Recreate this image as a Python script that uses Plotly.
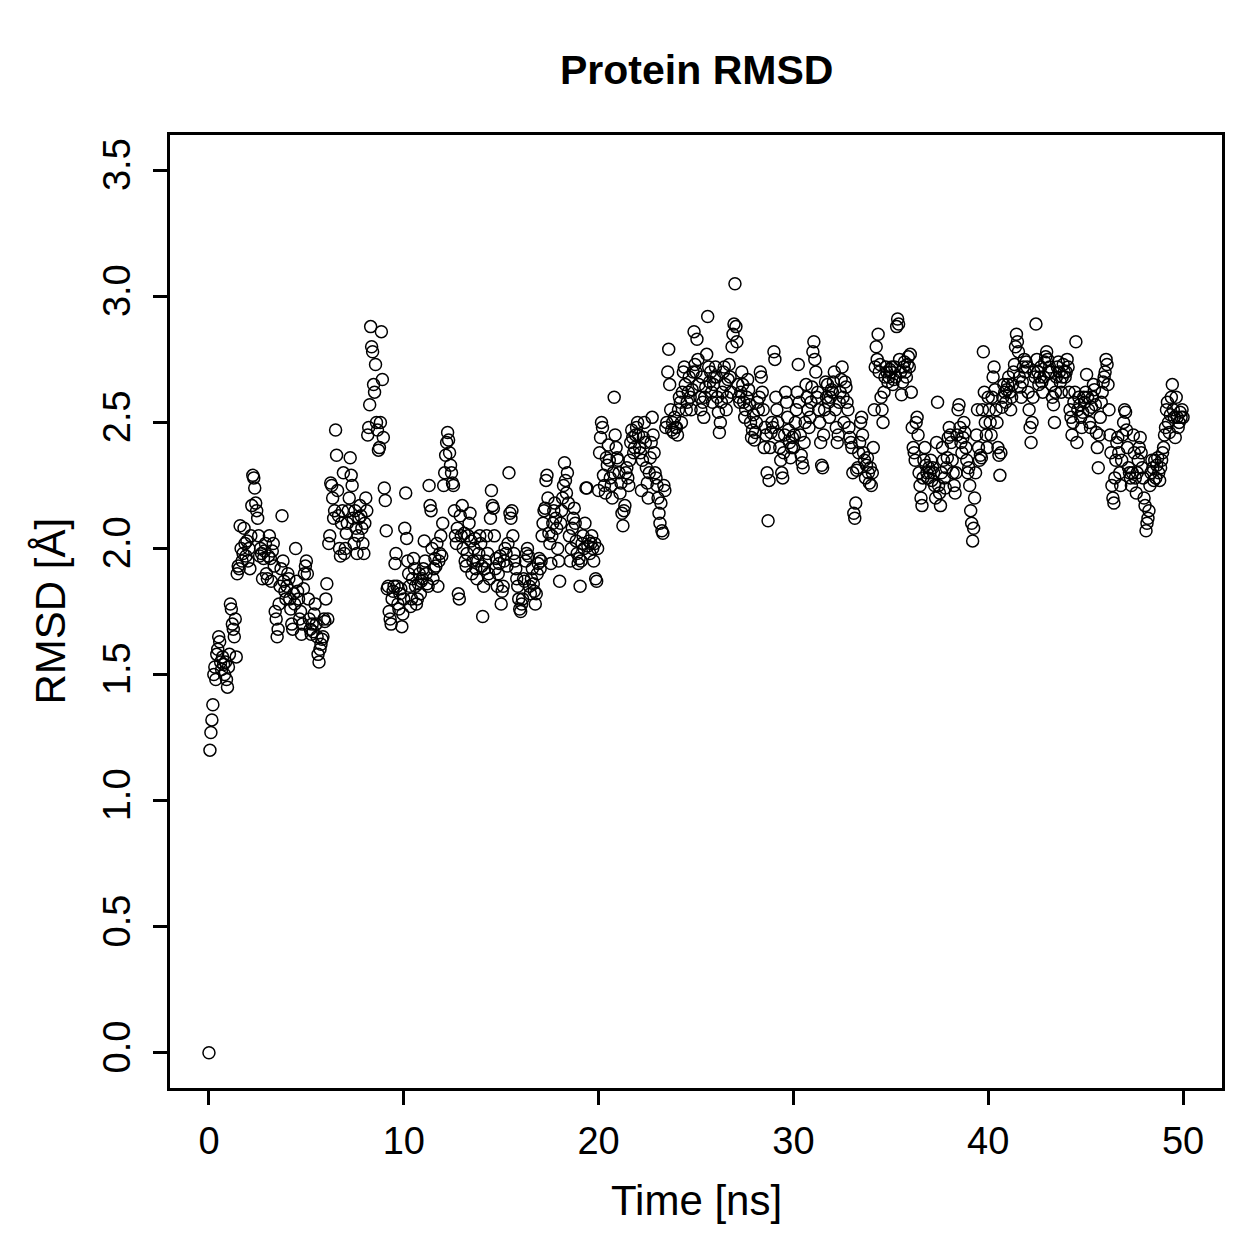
import plotly.graph_objects as go
import numpy as np

title_text = "Protein RMSD"
x_label = "Time [ns]"
y_label = "RMSD [Å]"
time_step_ns = 0.05
x_ticks = [0, 10, 20, 30, 40, 50]
y_ticks = [0.0, 0.5, 1.0, 1.5, 2.0, 2.5, 3.0, 3.5]

# RMSD values (Å), 20 frames per ns
rmsd_00_09 = [
    0.00, 1.20, 1.27, 1.32, 1.38, 1.50, 1.53, 1.48, 1.58, 1.60, 1.65, 1.63, 1.55, 1.52, 1.57, 1.54, 1.50, 1.55, 1.48, 1.45,
    1.53, 1.58, 1.78, 1.76, 1.70, 1.68, 1.65, 1.72, 1.57, 1.90, 1.93, 1.92, 2.09, 2.00, 1.95, 1.98, 2.08, 2.02, 1.97, 2.03,
    1.95, 2.00, 1.92, 2.05, 2.17, 2.29, 2.28, 2.24, 2.18, 2.15, 2.12, 2.05, 1.97, 2.00, 1.98, 1.88, 1.96, 1.99, 2.02, 1.90,
    1.88, 1.97, 2.05, 1.96, 1.87, 1.99, 2.02, 1.93, 1.75, 1.72, 1.65, 1.68, 1.78, 1.85, 1.92, 2.13, 1.95, 1.87, 1.83, 1.80,
    1.85, 1.90, 1.88, 1.80, 1.76, 1.70, 1.68, 1.82, 1.78, 2.00, 1.87, 1.83, 1.80, 1.72, 1.75, 1.66, 1.70, 1.84, 1.90, 1.93,
    1.95, 1.90, 1.80, 1.72, 1.68, 1.66, 1.70, 1.67, 1.74, 1.78, 1.70, 1.65, 1.58, 1.55, 1.60, 1.62, 1.64, 1.65, 1.72, 1.71,
    1.80, 1.86, 1.72, 2.02, 2.05, 2.26, 2.25, 2.20, 2.12, 2.15, 2.47, 2.37, 2.23, 2.13, 2.00, 1.97, 2.10, 2.15, 2.30, 1.98,
    2.00, 2.06, 2.10, 2.15, 2.20, 2.36, 2.29, 2.25, 2.12, 2.02, 2.15, 2.08, 1.98, 2.05, 2.12, 2.17, 2.13, 2.08, 2.02, 1.98,
    2.10, 2.20, 2.15, 2.45, 2.48, 2.57, 2.88, 2.80, 2.78, 2.65, 2.62, 2.73, 2.50, 2.47, 2.39, 2.40, 2.50, 2.86, 2.67, 2.44,
    2.24, 2.19, 2.07, 1.84, 1.85, 1.75, 1.72, 1.70, 1.80, 1.83, 1.85, 1.94, 1.98, 1.85, 1.78, 1.76, 1.82, 1.84, 1.69, 1.74,
]
rmsd_10_19 = [
    1.80, 2.08, 2.22, 2.04, 1.95, 1.90, 1.85, 1.77, 1.80, 1.88, 1.96, 1.92, 1.85, 1.78, 1.80, 1.86, 1.90, 1.82, 1.87, 1.88,
    1.92, 2.03, 1.95, 1.90, 1.86, 1.85, 2.25, 2.17, 2.15, 2.00, 1.88, 1.92, 1.96, 1.93, 2.02, 1.85, 1.95, 1.98, 2.05, 1.97,
    2.10, 2.25, 2.30, 2.37, 2.42, 2.46, 2.43, 2.38, 2.33, 2.30, 2.26, 2.25, 2.15, 2.05, 2.02, 2.08, 1.82, 1.80, 2.13, 2.05,
    2.17, 2.00, 2.06, 1.95, 1.93, 1.98, 2.05, 2.10, 2.14, 2.03, 1.90, 1.95, 2.00, 2.04, 1.92, 1.88, 1.95, 1.98, 2.05, 2.02,
    1.93, 1.73, 1.85, 1.92, 1.95, 2.05, 1.98, 1.90, 1.88, 2.12, 2.23, 2.17, 2.16, 2.05, 1.92, 1.96, 1.85, 1.90, 1.94, 1.97,
    1.78, 1.83, 1.85, 1.95, 2.00, 1.98, 1.93, 2.02, 2.30, 2.14, 2.12, 2.15, 2.05, 1.98, 1.95, 1.92, 1.88, 1.85, 1.80, 1.76,
    1.75, 1.78, 1.80, 1.88, 1.87, 1.95, 1.98, 2.00, 1.97, 1.85, 1.82, 1.88, 1.92, 1.86, 1.83, 1.78, 1.82, 1.90, 1.94, 1.96,
    1.92, 1.95, 2.05, 2.10, 2.15, 2.16, 2.27, 2.29, 2.20, 2.06, 2.02, 1.94, 2.05, 2.10, 2.15, 2.18, 2.12, 2.08, 2.00, 1.95,
    1.87, 2.10, 2.15, 2.20, 2.25, 2.34, 2.27, 2.22, 2.30, 2.18, 2.05, 1.95, 2.00, 2.08, 2.12, 2.16, 2.10, 2.03, 1.98, 1.94,
    1.96, 1.85, 1.95, 2.02, 2.05, 2.00, 2.10, 2.24, 2.24, 2.01, 2.03, 1.98, 2.02, 2.05, 2.00, 1.95, 2.02, 1.88, 1.87, 2.00,
]
rmsd_20_29 = [
    2.23, 2.38, 2.44, 2.50, 2.48, 2.29, 2.25, 2.22, 2.36, 2.33, 2.41, 2.35, 2.28, 2.25, 2.20, 2.30, 2.60, 2.45, 2.40, 2.36,
    2.35, 2.30, 2.22, 2.26, 2.14, 2.09, 2.15, 2.17, 2.30, 2.32, 2.28, 2.25, 2.35, 2.42, 2.47, 2.44, 2.38, 2.40, 2.45, 2.48,
    2.50, 2.45, 2.40, 2.38, 2.23, 2.35, 2.44, 2.50, 2.42, 2.32, 2.26, 2.20, 2.30, 2.36, 2.42, 2.52, 2.45, 2.38, 2.30, 2.28,
    2.25, 2.20, 2.14, 2.10, 2.18, 2.07, 2.06, 2.25, 2.23, 2.48, 2.50, 2.70, 2.79, 2.65, 2.55, 2.47, 2.50, 2.46, 2.52, 2.48,
    2.48, 2.45, 2.55, 2.60, 2.58, 2.50, 2.62, 2.70, 2.72, 2.65, 2.55, 2.58, 2.62, 2.68, 2.60, 2.55, 2.63, 2.70, 2.86, 2.73,
    2.70, 2.83, 2.75, 2.65, 2.60, 2.55, 2.68, 2.58, 2.52, 2.60, 2.64, 2.77, 2.92, 2.72, 2.66, 2.70, 2.62, 2.58, 2.65, 2.68,
    2.72, 2.68, 2.60, 2.54, 2.46, 2.50, 2.58, 2.62, 2.70, 2.72, 2.65, 2.55, 2.60, 2.67, 2.73, 2.68, 2.62, 2.80, 2.85, 2.89,
    3.05, 2.88, 2.82, 2.65, 2.60, 2.58, 2.62, 2.70, 2.65, 2.58, 2.52, 2.55, 2.60, 2.67, 2.63, 2.57, 2.50, 2.44, 2.47, 2.53,
    2.43, 2.46, 2.50, 2.58, 2.55, 2.60, 2.70, 2.68, 2.62, 2.55, 2.40, 2.48, 2.45, 2.30, 2.11, 2.27, 2.40, 2.46, 2.50, 2.48,
    2.78, 2.75, 2.60, 2.55, 2.50, 2.45, 2.40, 2.35, 2.30, 2.28, 2.38, 2.45, 2.62, 2.58, 2.52, 2.47, 2.42, 2.36, 2.40, 2.44,
]
rmsd_30_39 = [
    2.40, 2.45, 2.50, 2.55, 2.62, 2.73, 2.58, 2.45, 2.37, 2.34, 2.32, 2.42, 2.50, 2.65, 2.60, 2.55, 2.48, 2.52, 2.58, 2.64,
    2.78, 2.82, 2.75, 2.70, 2.60, 2.62, 2.55, 2.50, 2.42, 2.33, 2.32, 2.45, 2.55, 2.66, 2.60, 2.65, 2.58, 2.52, 2.60, 2.63,
    2.62, 2.66, 2.70, 2.55, 2.48, 2.42, 2.45, 2.58, 2.62, 2.67, 2.72, 2.60, 2.50, 2.66, 2.64, 2.58, 2.55, 2.48, 2.44, 2.42,
    2.40, 2.30, 2.14, 2.12, 2.18, 2.31, 2.32, 2.38, 2.42, 2.50, 2.52, 2.45, 2.38, 2.35, 2.28, 2.33, 2.36, 2.30, 2.26, 2.32,
    2.25, 2.30, 2.40, 2.55, 2.72, 2.80, 2.75, 2.85, 2.70, 2.73, 2.60, 2.55, 2.50, 2.62, 2.68, 2.72, 2.70, 2.66, 2.68, 2.71,
    2.70, 2.72, 2.65, 2.67, 2.72, 2.68, 2.88, 2.91, 2.89, 2.75, 2.70, 2.61, 2.66, 2.72, 2.74, 2.70, 2.68, 2.73, 2.76, 2.72,
    2.77, 2.62, 2.48, 2.40, 2.38, 2.35, 2.50, 2.52, 2.45, 2.30, 2.25, 2.20, 2.17, 2.28, 2.35, 2.40, 2.33, 2.30, 2.28, 2.32,
    2.30, 2.35, 2.27, 2.32, 2.30, 2.25, 2.20, 2.42, 2.58, 2.25, 2.22, 2.17, 2.30, 2.40, 2.35, 2.28, 2.24, 2.32, 2.36, 2.44,
    2.48, 2.45, 2.42, 2.35, 2.30, 2.25, 2.22, 2.30, 2.45, 2.55, 2.57, 2.48, 2.42, 2.38, 2.44, 2.50, 2.46, 2.40, 2.35, 2.30,
    2.32, 2.25, 2.15, 2.10, 2.03, 2.08, 2.20, 2.30, 2.45, 2.55, 2.40, 2.35, 2.37, 2.36, 2.55, 2.78, 2.62, 2.50, 2.45, 2.40,
]
rmsd_40_50 = [
    2.60, 2.55, 2.50, 2.45, 2.60, 2.68, 2.72, 2.63, 2.55, 2.50, 2.40, 2.37, 2.29, 2.38, 2.56, 2.60, 2.65, 2.62, 2.58, 2.63,
    2.65, 2.68, 2.62, 2.55, 2.60, 2.65, 2.70, 2.73, 2.80, 2.85, 2.82, 2.78, 2.68, 2.64, 2.60, 2.66, 2.72, 2.75, 2.70, 2.74,
    2.72, 2.62, 2.55, 2.48, 2.42, 2.50, 2.60, 2.70, 2.68, 2.89, 2.75, 2.70, 2.65, 2.68, 2.72, 2.66, 2.62, 2.68, 2.74, 2.76,
    2.78, 2.75, 2.70, 2.72, 2.70, 2.65, 2.60, 2.57, 2.50, 2.62, 2.68, 2.72, 2.74, 2.70, 2.66, 2.62, 2.68, 2.73, 2.70, 2.68,
    2.70, 2.75, 2.72, 2.62, 2.55, 2.52, 2.45, 2.50, 2.58, 2.62, 2.82, 2.42, 2.55, 2.60, 2.57, 2.52, 2.48, 2.54, 2.60, 2.58,
    2.62, 2.69, 2.60, 2.55, 2.50, 2.48, 2.56, 2.60, 2.65, 2.63, 2.57, 2.46, 2.40, 2.32, 2.45, 2.52, 2.58, 2.62, 2.66, 2.68,
    2.70, 2.75, 2.73, 2.65, 2.55, 2.45, 2.38, 2.25, 2.20, 2.18, 2.28, 2.35, 2.42, 2.44, 2.38, 2.30, 2.25, 2.35, 2.45, 2.50,
    2.55, 2.54, 2.47, 2.40, 2.32, 2.30, 2.28, 2.25, 2.30, 2.45, 2.38, 2.28, 2.22, 2.30, 2.35, 2.40, 2.44, 2.38, 2.32, 2.28,
    2.20, 2.17, 2.07, 2.10, 2.12, 2.15, 2.25, 2.30, 2.35, 2.32, 2.27, 2.35, 2.28, 2.33, 2.36, 2.30, 2.27, 2.32, 2.35, 2.38,
    2.40, 2.45, 2.48, 2.55, 2.58, 2.50, 2.46, 2.53, 2.60, 2.65, 2.55, 2.52, 2.44, 2.60, 2.52, 2.48, 2.50, 2.54, 2.52, 2.55,
    2.52,
]

rmsd = rmsd_00_09 + rmsd_10_19 + rmsd_20_29 + rmsd_30_39 + rmsd_40_50
time_ns = np.round(np.arange(len(rmsd)) * time_step_ns, 2)

FONT = "Liberation Sans, Arial, Helvetica, sans-serif"

fig = go.Figure()
fig.add_trace(go.Scatter(
    x=time_ns, y=rmsd, mode="markers",
    marker=dict(symbol="circle-open", size=12, color="black", line=dict(width=1.5, color="black")),
    showlegend=False,
))

axis_common = dict(
    showgrid=False, zeroline=False, showline=True, linecolor="black", linewidth=2.5,
    mirror=True, ticks="outside", ticklen=14, tickwidth=2.5, tickcolor="black",
    tickfont=dict(family=FONT, size=38, color="black"),
)

fig.update_layout(
    width=1259, height=1259,
    margin=dict(l=170, r=37, t=135, b=171),
    paper_bgcolor="white", plot_bgcolor="white",
    xaxis=dict(range=[-2, 52], tickvals=x_ticks, ticktext=[str(v) for v in x_ticks],
               ticklabelstandoff=4, **axis_common),
    yaxis=dict(range=[-0.14, 3.64], tickvals=y_ticks, ticktext=[f"{v:.1f}" for v in y_ticks],
               tickangle=-90, ticklabelstandoff=8, **axis_common),
    annotations=[
        dict(text=f"<b>{title_text}</b>", xref="paper", yref="paper", x=0.5, y=1, yshift=65,
             xanchor="center", yanchor="middle", showarrow=False,
             font=dict(family=FONT, size=41, color="black")),
        dict(text=x_label, xref="paper", yref="paper", x=0.5, y=0, yshift=-112,
             xanchor="center", yanchor="middle", showarrow=False,
             font=dict(family=FONT, size=42, color="black")),
        dict(text=y_label, xref="paper", yref="paper", x=0, y=0.5, xshift=-120,
             xanchor="center", yanchor="middle", textangle=-90, showarrow=False,
             font=dict(family=FONT, size=42, color="black")),
    ],
)

fig.write_html("out.html")
